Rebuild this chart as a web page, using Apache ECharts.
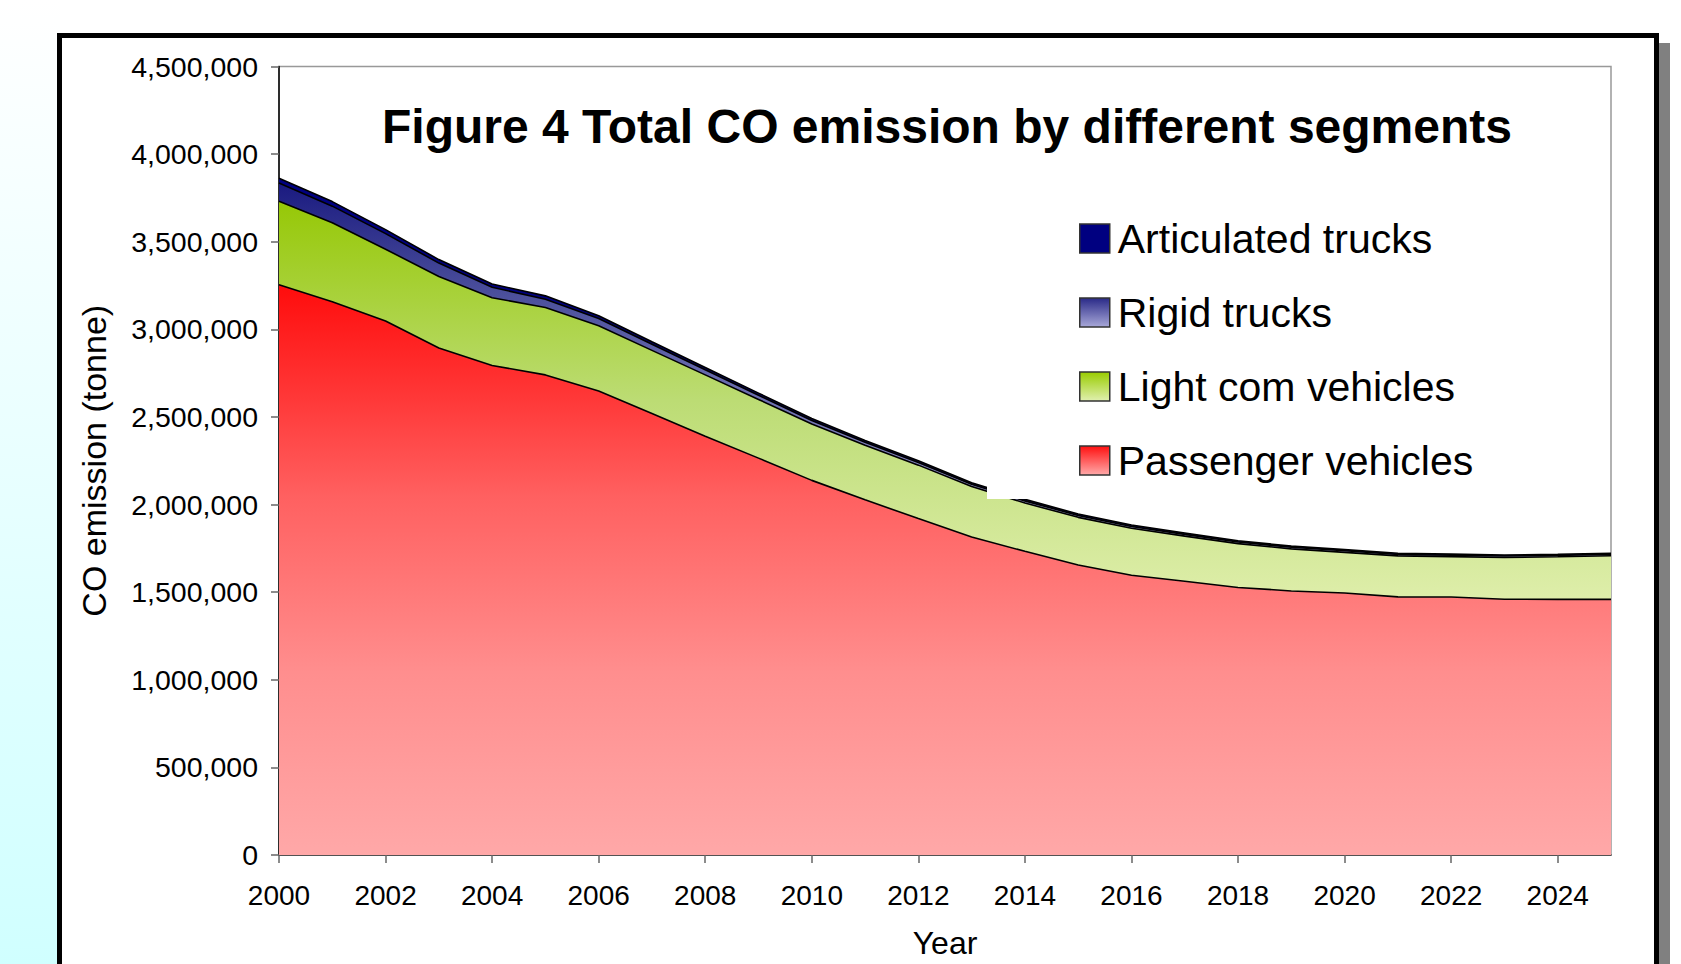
<!DOCTYPE html>
<html>
<head>
<meta charset="utf-8">
<script src="https://cdn.jsdelivr.net/npm/echarts@6/dist/echarts.min.js"></script>
<style>
html,body{margin:0;padding:0;background:#fff;}
#c{width:1681px;height:964px;}
</style>
</head>
<body>
<div id="c"></div>
<script>
var years = ['2000','2001','2002','2003','2004','2005','2006','2007','2008','2009','2010','2011','2012','2013','2014','2015','2016','2017','2018','2019','2020','2021','2022','2023','2024','2025'];
var passengerVehicles = [3255000,3158000,3048000,2893000,2794000,2740000,2648000,2520000,2390000,2265000,2138000,2027000,1920000,1815000,1733000,1655000,1597000,1562000,1527000,1507000,1495000,1473000,1472000,1460000,1459000,1459000];
var lightComVehicles = [476000,450000,409000,409000,386000,385000,372000,360000,350000,335000,322000,312000,305000,288000,276000,272000,268000,258000,250000,240000,232000,234000,231000,238000,243000,249000];
var rigidTrucks = [104000,95000,89000,76000,60000,47000,42000,35000,29000,24000,20000,17000,15000,13000,12000,11000,10000,10000,9000,9000,9000,8000,8000,8000,8000,8000];
var articulatedTrucks = [27000,26000,23000,20000,19000,19000,16000,14000,13000,12000,11000,10000,10000,9000,9000,8000,8000,8000,7000,7000,7000,7000,6000,6000,6000,6000];
var seriesNames = ['Passenger vehicles','Light com vehicles','Rigid trucks','Articulated trucks'];
var legendOrder = ['Articulated trucks','Rigid trucks','Light com vehicles','Passenger vehicles'];
var titleText = 'Figure 4 Total CO emission by different segments';
var yAxisName = 'CO emission (tonne)';
var xAxisName = 'Year';

var FONT = '"Liberation Sans", Arial, sans-serif';
function grad(stops){
  return new echarts.graphic.LinearGradient(0,0,0,1, stops.map(function(s){return {offset:s[0], color:s[1]};}));
}
var fills = {
  'Passenger vehicles': grad([[0,'#ff0c0c'],[0.2,'#ff3838'],[0.37,'#ff6060'],[0.68,'#ff8e8e'],[1,'#ffa8a8']]),
  'Light com vehicles': grad([[0,'#96c806'],[0.5,'#bcdc74'],[1,'#deeeaa']]),
  'Rigid trucks': grad([[0,'#1a1a80'],[0.3,'#4c509c'],[1,'#a0a0d2']]),
  'Articulated trucks': '#000080'
};
var legendFills = {
  'Passenger vehicles': grad([[0,'#ff1010'],[1,'#ffaaaa']]),
  'Light com vehicles': grad([[0,'#99cc00'],[1,'#e0f0b0']]),
  'Rigid trucks': grad([[0,'#2a2a88'],[1,'#a8a8d8']]),
  'Articulated trucks': '#000080'
};
var dataMap = {
  'Passenger vehicles': passengerVehicles,
  'Light com vehicles': lightComVehicles,
  'Rigid trucks': rigidTrucks,
  'Articulated trucks': articulatedTrucks
};

var chart = echarts.init(document.getElementById('c'), null, {renderer:'svg'});
var option = {
  animation: false,
  textStyle: {fontFamily: FONT},
  graphic: [
    {type:'rect', z:-30, shape:{x:0,y:0,width:60,height:964}, style:{fill: new echarts.graphic.LinearGradient(0,0,0,1,[{offset:0,color:'#ffffff'},{offset:1,color:'#d0ffff'}])}},
    {type:'rect', z:-20, shape:{x:70,y:43,width:1600,height:1000}, style:{fill:'#808080'}},
    {type:'rect', z:-10, shape:{x:59.5,y:35.5,width:1597,height:1000}, style:{fill:'#ffffff', stroke:'#000', lineWidth:5}}
  ],
  title: {
    text: titleText,
    left: 377, top: 97,
    textStyle: {fontFamily: FONT, fontSize: 48, fontWeight: 'bold', color: '#000'}
  },
  legend: {
    orient: 'vertical',
    left: 987, top: 188,
    padding: [30, 50, 18, 92],
    backgroundColor: '#ffffff',
    itemWidth: 30, itemHeight: 29, itemGap: 33,
    textStyle: {fontFamily: FONT, fontSize: 41, color: '#000', lineHeight: 41, padding:[0,0,0,3]},
    data: legendOrder.map(function(n){
      return {name: n, icon: 'rect', itemStyle: {color: legendFills[n], borderColor: '#333', borderWidth: 1.5}};
    })
  },
  grid: {
    left: 279, right: 70, top: 66.5, bottom: 105.5,
    show: true, borderColor: '#999', borderWidth: 1.5, backgroundColor: 'transparent'
  },
  xAxis: {
    type: 'category',
    data: years,
    boundaryGap: false,
    name: xAxisName,
    nameLocation: 'middle',
    nameGap: 72,
    nameTextStyle: {fontFamily: FONT, fontSize: 32, color: '#000'},
    axisLine: {show: true, lineStyle: {color: '#333', width: 1.5}},
    axisTick: {show: true, interval: 1, length: 8, lineStyle: {color: '#666', width: 1.5}},
    axisLabel: {interval: 1, margin: 26, fontFamily: FONT, fontSize: 28, color: '#000'},
    splitLine: {show: false}
  },
  yAxis: {
    type: 'value',
    min: 0, max: 4500000, interval: 500000,
    name: yAxisName,
    nameLocation: 'middle',
    nameGap: 168,
    nameTextStyle: {fontFamily: FONT, fontSize: 34, color: '#000'},
    axisLine: {show: true, lineStyle: {color: '#000', width: 1.5}},
    axisTick: {show: true, length: 8, lineStyle: {color: '#666', width: 1.5}},
    axisLabel: {margin: 21, fontFamily: FONT, fontSize: 28.5, color: '#000',
      formatter: function(v){ return v.toString().replace(/\B(?=(\d{3})+(?!\d))/g, ','); }},
    splitLine: {show: false}
  },
  series: seriesNames.map(function(n){
    return {
      name: n,
      type: 'line',
      stack: 'total',
      data: dataMap[n],
      symbol: 'none',
      itemStyle: {color: legendFills[n]},
      lineStyle: {color: '#000', width: 1.6},
      areaStyle: {color: fills[n], opacity: 1}
    };
  })
};
chart.setOption(option);
</script>
</body>
</html>
